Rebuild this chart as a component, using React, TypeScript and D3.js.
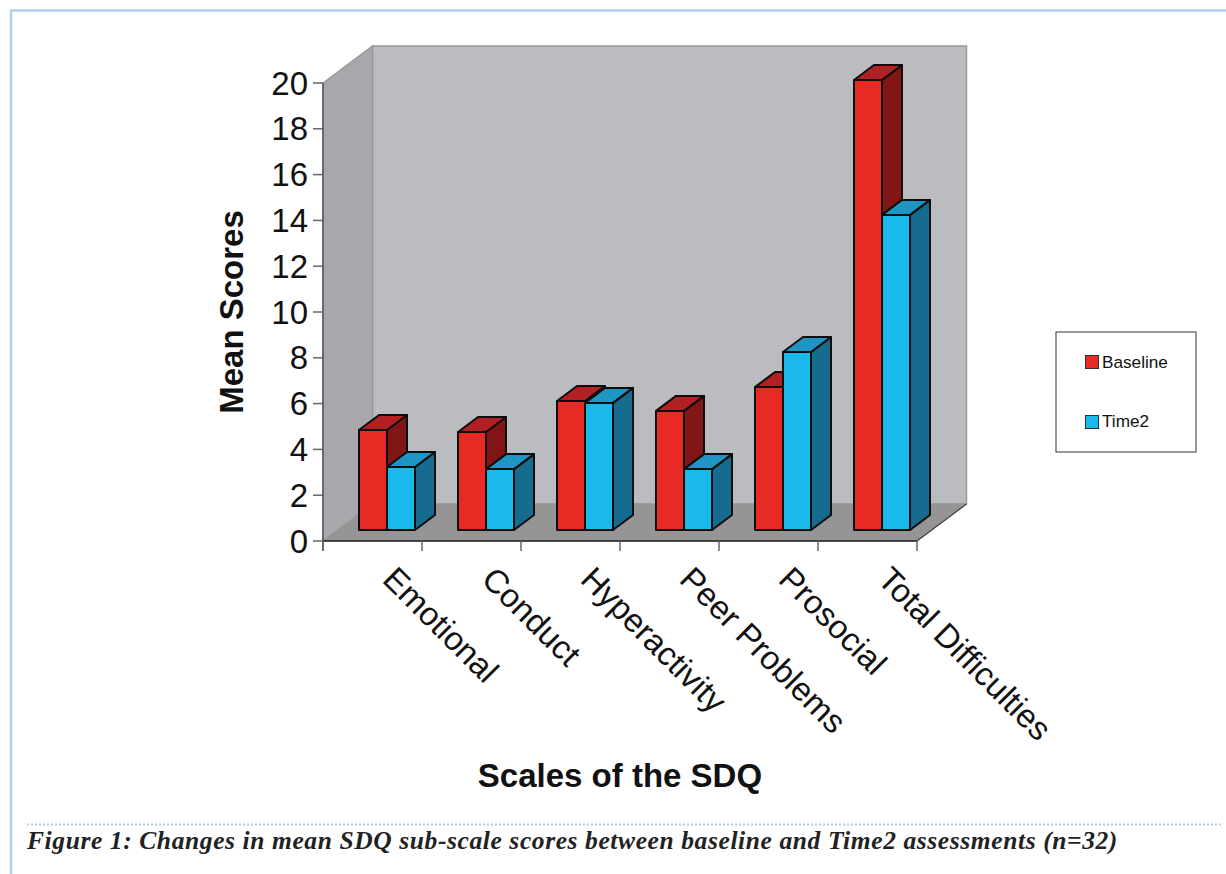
import React from "react";
import * as d3 from "d3";

const categories = ["Emotional", "Conduct", "Hyperactivity", "Peer Problems", "Prosocial", "Total Difficulties"];
const baseline = [4.37, 4.28, 5.63, 5.2, 6.24, 19.65];
const time2 = [2.75, 2.66, 5.55, 2.66, 7.77, 13.76];
const yTicks = [0, 2, 4, 6, 8, 10, 12, 14, 16, 18, 20];
const caption = "Figure 1: Changes in mean SDQ sub-scale scores between baseline and Time2 assessments (n=32)";

const colors = {
  red: { front: "#e82a25", top: "#b22024", side: "#821516" },
  blue: { front: "#1ab9ec", top: "#1e95c3", side: "#166c8e" },
};

const x0 = 323, x1 = 917, y0 = 541, y1 = 83;
const wallDx = 49.5, wallDy = -37;
const barDx = 15, barDy = -11;
const boxDx = 20, boxDy = -15;

const y = d3.scaleLinear().domain([0, 20]).range([y0, y1]);
const xBand = d3.scaleBand<string>().domain(categories).range([x0, x1]).paddingInner(0).paddingOuter(0);
const BAR_GROUP = 56;
const sub = d3.scaleBand<string>().domain(["baseline", "time2"]).range([0, BAR_GROUP]);

const poly = (pts: [number, number][]) => d3.line()(pts)! + "Z";
const sans = "'Liberation Sans', Arial, sans-serif";

function Bar({ x, w, v, c }: { x: number; w: number; v: number; c: { front: string; top: string; side: string } }) {
  const b = y(0) + barDy;
  const t = y(v) + barDy;
  const stroke = { stroke: "#0d0d0d", strokeWidth: 2, strokeLinejoin: "round" as const };
  return (
    <g>
      <path d={poly([[x + w, t], [x + w + boxDx, t + boxDy], [x + w + boxDx, b + boxDy], [x + w, b]])} fill={c.side} {...stroke} />
      <path d={poly([[x, t], [x + boxDx, t + boxDy], [x + w + boxDx, t + boxDy], [x + w, t]])} fill={c.top} {...stroke} />
      <rect x={x} y={t} width={w} height={b - t} fill={c.front} {...stroke} />
    </g>
  );
}

export default function App() {
  return (
    <svg width={1226} height={874} style={{ position: "absolute", left: 0, top: 0, background: "#fff" }}>
      <path d="M1226,10.5H11V874" fill="none" stroke="#b0d0ee" strokeWidth={2.5} />
      <line x1={27} x2={1222} y1={824.5} y2={824.5} stroke="#a9cdea" strokeWidth={2} strokeDasharray="2 2" />

      {/* walls */}
      <path d={poly([[x0 + wallDx, y1 + wallDy], [x1 + wallDx, y1 + wallDy], [x1 + wallDx, y0 + wallDy], [x0 + wallDx, y0 + wallDy]])} fill="#bbbcc0" stroke="#999a9c" strokeWidth={1.5} />
      <path d={poly([[x0, y1], [x0 + wallDx, y1 + wallDy], [x0 + wallDx, y0 + wallDy], [x0, y0]])} fill="#a7a8ab" stroke="#999a9c" strokeWidth={1.5} />
      <path d={poly([[x0, y0], [x0 + wallDx, y0 + wallDy], [x1 + wallDx, y0 + wallDy], [x1, y0]])} fill="#959595" stroke="#959595" strokeWidth={1} />
      <line x1={x1} y1={y0} x2={x1 + wallDx} y2={y0 + wallDy} stroke="#444" strokeWidth={1.2} />

      {/* axes */}
      <line x1={x0} x2={x0} y1={y1} y2={y0 + 10} stroke="#555" strokeWidth={1.5} />
      <line x1={x0} x2={x1} y1={y0} y2={y0} stroke="#222" strokeWidth={1.5} />
      {yTicks.map((t) => (
        <g key={t}>
          <line x1={x0 - 10} x2={x0} y1={y(t)} y2={y(t)} stroke="#666" strokeWidth={1.5} />
          <text x={308} y={y(t) + 11.5} textAnchor="end" fontFamily={sans} fontSize={33} fill="#111">{t}</text>
        </g>
      ))}
      {[...categories.map((c) => xBand(c)!), x1].map((px) => (
        <line key={px} x1={px} x2={px} y1={y0} y2={y0 + 10} stroke="#666" strokeWidth={1.5} />
      ))}

      {/* bars */}
      {categories.map((c, i) => {
        const gx = xBand(c)! + barDx + (xBand.bandwidth() - BAR_GROUP - barDx) / 2 + 7;
        return (
          <g key={c}>
            <Bar x={gx + sub("baseline")!} w={sub.bandwidth()} v={baseline[i]} c={colors.red} />
            <Bar x={gx + sub("time2")!} w={sub.bandwidth()} v={time2[i]} c={colors.blue} />
          </g>
        );
      })}

      {/* category labels */}
      {categories.map((c) => {
        const lx = xBand(c)! + 58;
        return (
          <text key={c} transform={`translate(${lx},${y0 + 40}) rotate(45)`} fontFamily={sans} fontSize={33} fill="#111">{c}</text>
        );
      })}

      <text transform="translate(243,312) rotate(-90)" textAnchor="middle" fontFamily={sans} fontWeight="bold" fontSize={33} fill="#111">Mean Scores</text>
      <text x={620} y={787} textAnchor="middle" fontFamily={sans} fontWeight="bold" fontSize={33} fill="#111">Scales of the SDQ</text>

      {/* legend */}
      <rect x={1056} y={332} width={140} height={120} fill="#fff" stroke="#555" strokeWidth={1.2} />
      <rect x={1085.5} y={355.5} width={13} height={13} fill={colors.red.front} stroke="#333" strokeWidth={1} />
      <text x={1102} y={368} fontFamily={sans} fontSize={17.2} fill="#111">Baseline</text>
      <rect x={1085.5} y={415.5} width={13} height={13} fill={colors.blue.front} stroke="#333" strokeWidth={1} />
      <text x={1102} y={427} fontFamily={sans} fontSize={17.2} fill="#111">Time2</text>

      <text x={27} y={849} fontFamily="'Liberation Serif', serif" fontWeight="bold" fontStyle="italic" fontSize={25.5} letterSpacing={0.6} fill="#222">{caption}</text>
    </svg>
  );
}
